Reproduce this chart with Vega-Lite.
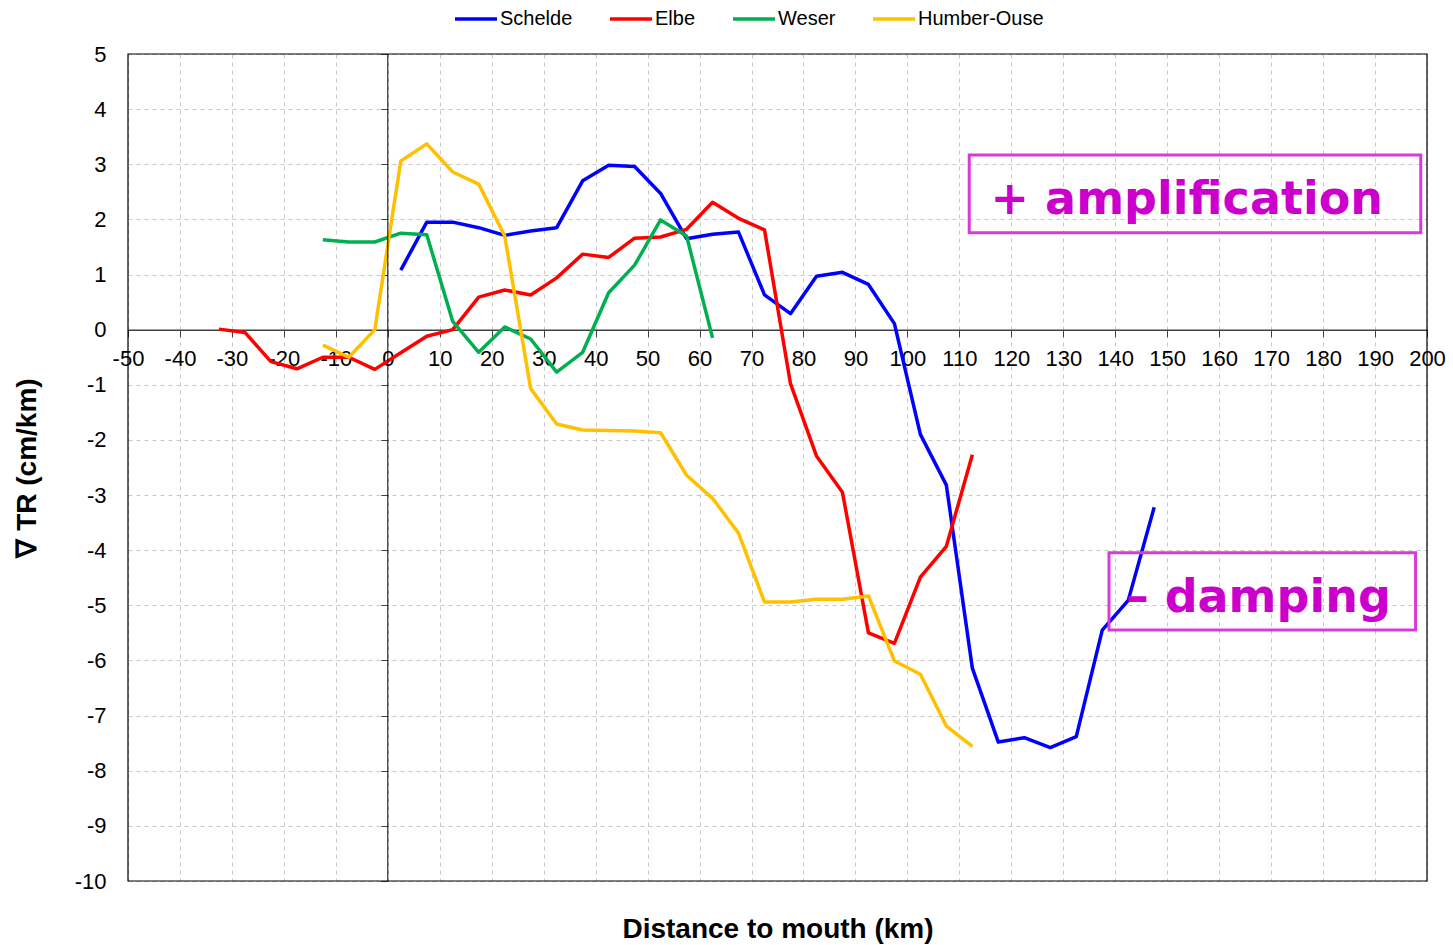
{
  "$schema": "https://vega.github.io/schema/vega-lite/v6.json",
  "width": 1299,
  "height": 827,
  "autosize": {"type": "none"},
  "padding": {"left": 128, "top": 54, "right": 26, "bottom": 64},
  "background": "white",
  "datasets": {
    "tr": [
      {"river": "Schelde", "km": 2.5, "v": 1.08},
      {"river": "Schelde", "km": 7.5, "v": 1.95},
      {"river": "Schelde", "km": 12.5, "v": 1.95},
      {"river": "Schelde", "km": 17.5, "v": 1.85},
      {"river": "Schelde", "km": 22.5, "v": 1.71},
      {"river": "Schelde", "km": 27.5, "v": 1.79},
      {"river": "Schelde", "km": 32.5, "v": 1.85},
      {"river": "Schelde", "km": 37.5, "v": 2.70},
      {"river": "Schelde", "km": 42.5, "v": 2.98},
      {"river": "Schelde", "km": 47.5, "v": 2.96},
      {"river": "Schelde", "km": 52.5, "v": 2.47},
      {"river": "Schelde", "km": 57.5, "v": 1.65},
      {"river": "Schelde", "km": 62.5, "v": 1.73},
      {"river": "Schelde", "km": 67.5, "v": 1.77},
      {"river": "Schelde", "km": 72.5, "v": 0.63},
      {"river": "Schelde", "km": 77.5, "v": 0.29},
      {"river": "Schelde", "km": 82.5, "v": 0.97},
      {"river": "Schelde", "km": 87.5, "v": 1.04},
      {"river": "Schelde", "km": 92.5, "v": 0.82},
      {"river": "Schelde", "km": 97.5, "v": 0.11},
      {"river": "Schelde", "km": 102.5, "v": -1.90},
      {"river": "Schelde", "km": 107.5, "v": -2.82},
      {"river": "Schelde", "km": 112.5, "v": -6.14},
      {"river": "Schelde", "km": 117.5, "v": -7.48},
      {"river": "Schelde", "km": 122.5, "v": -7.40},
      {"river": "Schelde", "km": 127.5, "v": -7.58},
      {"river": "Schelde", "km": 132.5, "v": -7.38},
      {"river": "Schelde", "km": 137.5, "v": -5.45},
      {"river": "Schelde", "km": 142.5, "v": -4.91},
      {"river": "Schelde", "km": 147.5, "v": -3.22},
      {"river": "Elbe", "km": -32.5, "v": 0.01},
      {"river": "Elbe", "km": -27.5, "v": -0.05},
      {"river": "Elbe", "km": -22.5, "v": -0.58},
      {"river": "Elbe", "km": -17.5, "v": -0.71},
      {"river": "Elbe", "km": -12.5, "v": -0.50},
      {"river": "Elbe", "km": -7.5, "v": -0.50},
      {"river": "Elbe", "km": -2.5, "v": -0.72},
      {"river": "Elbe", "km": 2.5, "v": -0.42},
      {"river": "Elbe", "km": 7.5, "v": -0.12},
      {"river": "Elbe", "km": 12.5, "v": 0.00},
      {"river": "Elbe", "km": 17.5, "v": 0.59},
      {"river": "Elbe", "km": 22.5, "v": 0.72},
      {"river": "Elbe", "km": 27.5, "v": 0.63},
      {"river": "Elbe", "km": 32.5, "v": 0.94},
      {"river": "Elbe", "km": 37.5, "v": 1.37},
      {"river": "Elbe", "km": 42.5, "v": 1.31},
      {"river": "Elbe", "km": 47.5, "v": 1.66},
      {"river": "Elbe", "km": 52.5, "v": 1.68},
      {"river": "Elbe", "km": 57.5, "v": 1.82},
      {"river": "Elbe", "km": 62.5, "v": 2.31},
      {"river": "Elbe", "km": 67.5, "v": 2.02},
      {"river": "Elbe", "km": 72.5, "v": 1.81},
      {"river": "Elbe", "km": 77.5, "v": -0.98},
      {"river": "Elbe", "km": 82.5, "v": -2.29},
      {"river": "Elbe", "km": 87.5, "v": -2.95},
      {"river": "Elbe", "km": 92.5, "v": -5.50},
      {"river": "Elbe", "km": 97.5, "v": -5.69},
      {"river": "Elbe", "km": 102.5, "v": -4.49},
      {"river": "Elbe", "km": 107.5, "v": -3.93},
      {"river": "Elbe", "km": 112.5, "v": -2.27},
      {"river": "Weser", "km": -12.5, "v": 1.63},
      {"river": "Weser", "km": -7.5, "v": 1.59},
      {"river": "Weser", "km": -2.5, "v": 1.59},
      {"river": "Weser", "km": 2.5, "v": 1.75},
      {"river": "Weser", "km": 7.5, "v": 1.72},
      {"river": "Weser", "km": 12.5, "v": 0.15},
      {"river": "Weser", "km": 17.5, "v": -0.41},
      {"river": "Weser", "km": 22.5, "v": 0.05},
      {"river": "Weser", "km": 27.5, "v": -0.17},
      {"river": "Weser", "km": 32.5, "v": -0.77},
      {"river": "Weser", "km": 37.5, "v": -0.41},
      {"river": "Weser", "km": 42.5, "v": 0.67},
      {"river": "Weser", "km": 47.5, "v": 1.17},
      {"river": "Weser", "km": 52.5, "v": 1.99},
      {"river": "Weser", "km": 57.5, "v": 1.70},
      {"river": "Weser", "km": 62.5, "v": -0.15},
      {"river": "Humber-Ouse", "km": -12.5, "v": -0.28},
      {"river": "Humber-Ouse", "km": -7.5, "v": -0.50},
      {"river": "Humber-Ouse", "km": -2.5, "v": 0.00},
      {"river": "Humber-Ouse", "km": 2.5, "v": 3.06},
      {"river": "Humber-Ouse", "km": 7.5, "v": 3.37},
      {"river": "Humber-Ouse", "km": 12.5, "v": 2.86},
      {"river": "Humber-Ouse", "km": 17.5, "v": 2.64},
      {"river": "Humber-Ouse", "km": 22.5, "v": 1.70},
      {"river": "Humber-Ouse", "km": 27.5, "v": -1.07},
      {"river": "Humber-Ouse", "km": 32.5, "v": -1.71},
      {"river": "Humber-Ouse", "km": 37.5, "v": -1.82},
      {"river": "Humber-Ouse", "km": 42.5, "v": -1.83},
      {"river": "Humber-Ouse", "km": 47.5, "v": -1.84},
      {"river": "Humber-Ouse", "km": 52.5, "v": -1.87},
      {"river": "Humber-Ouse", "km": 57.5, "v": -2.64},
      {"river": "Humber-Ouse", "km": 62.5, "v": -3.06},
      {"river": "Humber-Ouse", "km": 67.5, "v": -3.69},
      {"river": "Humber-Ouse", "km": 72.5, "v": -4.94},
      {"river": "Humber-Ouse", "km": 77.5, "v": -4.94},
      {"river": "Humber-Ouse", "km": 82.5, "v": -4.89},
      {"river": "Humber-Ouse", "km": 87.5, "v": -4.89},
      {"river": "Humber-Ouse", "km": 92.5, "v": -4.83},
      {"river": "Humber-Ouse", "km": 97.5, "v": -6.01},
      {"river": "Humber-Ouse", "km": 102.5, "v": -6.25},
      {"river": "Humber-Ouse", "km": 107.5, "v": -7.19},
      {"river": "Humber-Ouse", "km": 112.5, "v": -7.56}
    ]
  },
  "resolve": {"axis": {"x": "independent", "y": "independent"}},
  "layer": [
    {
      "data": {"name": "tr"},
      "mark": {"type": "line", "strokeWidth": 3.5, "strokeJoin": "round", "strokeCap": "butt"},
      "encoding": {
        "x": {
          "field": "km", "type": "quantitative",
          "scale": {"domain": [-50, 200], "nice": false, "zero": false},
          "axis": {
            "orient": "bottom", "offset": -551.33,
            "values": [-50, -40, -30, -20, -10, 0, 10, 20, 30, 40, 50, 60, 70, 80, 90, 100, 110, 120, 130, 140, 150, 160, 170, 180, 190, 200],
            "labelExpr": "replace(datum.label, '−', '-')",
            "grid": true, "domain": true, "domainColor": "#404040", "domainWidth": 1.5,
            "ticks": true, "tickSize": 7, "tickColor": "#404040",
            "labelPadding": 12, "labelOverlap": false, "labelBound": false, "labelFlush": false,
            "title": null
          }
        },
        "y": {
          "field": "v", "type": "quantitative",
          "scale": {"domain": [-10, 5], "nice": false, "zero": false},
          "axis": {
            "orient": "left",
            "values": [-10, -9, -8, -7, -6, -5, -4, -3, -2, -1, 0, 1, 2, 3, 4, 5],
            "labelExpr": "replace(datum.label, '−', '-')",
            "grid": true, "domain": false, "ticks": false, "tickSize": 0,
            "labelPadding": 22, "labelOverlap": false, "labelBound": false, "labelFlush": false,
            "title": "∇ TR (cm/km)", "titlePadding": 33
          }
        },
        "color": {
          "field": "river", "type": "nominal",
          "scale": {"domain": ["Schelde", "Elbe", "Weser", "Humber-Ouse"], "range": ["#0000FF", "#FF0000", "#00B050", "#FFC000"]},
          "legend": {
            "orient": "none", "legendX": 325, "legendY": -58, "direction": "horizontal",
            "title": null, "symbolType": "stroke", "symbolSize": 1764, "symbolStrokeWidth": 3.5,
            "labelFont": "Liberation Sans", "labelFontSize": 20, "labelColor": "#000",
            "labelOffset": 1, "columnPadding": 30
          }
        }
      }
    },
    {
      "data": {"values": [{}]},
      "mark": {"type": "rule", "color": "#000", "strokeWidth": 1},
      "encoding": {
        "x": {
          "datum": 0, "type": "quantitative",
          "scale": {"domain": [-50, 200], "nice": false, "zero": false},
          "axis": {"orient": "bottom", "grid": false, "domain": false, "ticks": false, "labels": false,
            "title": "Distance to mouth (km)", "titlePadding": 34}
        },
        "y": {
          "datum": -10, "type": "quantitative",
          "scale": {"domain": [-10, 5], "nice": false, "zero": false},
          "axis": {"orient": "left", "offset": -259.8,
            "values": [-10, -9, -8, -7, -6, -5, -4, -3, -2, -1, 0, 1, 2, 3, 4, 5],
            "grid": false, "domain": false, "ticks": true, "tickSize": 7, "tickColor": "#404040", "labels": false, "title": null}
        },
        "y2": {"datum": 5}
      }
    },
    {
      "data": {"values": [{}]},
      "mark": {"type": "rect", "fill": null, "fillOpacity": 0, "stroke": "#000", "strokeWidth": 1.2},
      "encoding": {
        "x": {"datum": -50, "type": "quantitative", "axis": null},
        "x2": {"datum": 200},
        "y": {"datum": -10, "type": "quantitative", "axis": null},
        "y2": {"datum": 5}
      }
    },
    {
      "data": {"values": [{}]},
      "mark": {"type": "rect", "fill": null, "fillOpacity": 0, "stroke": "#D83AD8", "strokeWidth": 3},
      "encoding": {
        "x": {"datum": 111.9, "type": "quantitative", "axis": null},
        "x2": {"datum": 198.8},
        "y": {"datum": 3.17, "type": "quantitative", "axis": null},
        "y2": {"datum": 1.76}
      }
    },
    {
      "data": {"values": [{}]},
      "mark": {"type": "rect", "fill": null, "fillOpacity": 0, "stroke": "#D83AD8", "strokeWidth": 3},
      "encoding": {
        "x": {"datum": 138.8, "type": "quantitative", "axis": null},
        "x2": {"datum": 197.8},
        "y": {"datum": -4.045, "type": "quantitative", "axis": null},
        "y2": {"datum": -5.447}
      }
    },
    {
      "data": {"values": [{"label": "+ amplification"}]},
      "mark": {"type": "text", "font": "DejaVu Sans", "fontWeight": "bold", "fontSize": 46, "color": "#CC00CC", "align": "left", "baseline": "alphabetic"},
      "encoding": {
        "x": {"datum": 116.0, "type": "quantitative", "axis": null},
        "y": {"datum": 2.10, "type": "quantitative", "axis": null},
        "text": {"field": "label"}
      }
    },
    {
      "data": {"values": [{"label": "– damping"}]},
      "mark": {"type": "text", "font": "DejaVu Sans", "fontWeight": "bold", "fontSize": 46, "color": "#CC00CC", "align": "left", "baseline": "alphabetic"},
      "encoding": {
        "x": {"datum": 142.0, "type": "quantitative", "axis": null},
        "y": {"datum": -5.115, "type": "quantitative", "axis": null},
        "text": {"field": "label"}
      }
    }
  ],
  "config": {
    "font": "Liberation Sans",
    "view": {"stroke": null},
    "axis": {
      "labelFont": "Liberation Sans", "labelFontSize": 22, "labelColor": "#000",
      "titleFont": "Liberation Sans", "titleFontSize": 28, "titleFontWeight": "bold", "titleColor": "#000",
      "gridColor": "#c8c8c8", "gridDash": [4, 4], "gridWidth": 1
    }
  }
}
